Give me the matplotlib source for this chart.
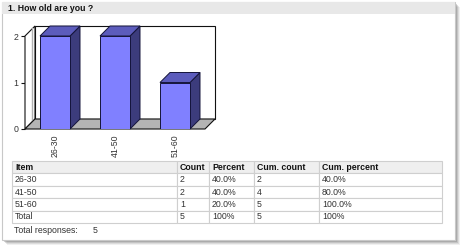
import matplotlib
matplotlib.use("Agg")
import matplotlib.pyplot as plt
from matplotlib.patches import Rectangle, Polygon

# ---- data ----
categories = ["26-30", "41-50", "51-60"]
counts = [2, 2, 1]
percents = ["40.0%", "40.0%", "20.0%"]
cum_counts = [2, 4, 5]
cum_percents = ["40.0%", "80.0%", "100.0%"]
total_row = ["Total", "5", "100%", "5", "100%"]
col_labels = ["Item", "Count", "Percent", "Cum. count", "Cum. percent"]
y_ticks = [0, 1, 2]
title = "1. How old are you ?"
total_responses = 5

W, H = 464, 249
DPI = 100
FONT = "Liberation Sans"
plt.rcParams["font.family"] = [FONT, "DejaVu Sans"]

fig = plt.figure(figsize=(W / DPI, H / DPI), dpi=DPI)
fig.patch.set_facecolor("white")

# ---- background panel (pixel coords) ----
bg = fig.add_axes([0, 0, 1, 1])
bg.set_xlim(0, W)
bg.set_ylim(H, 0)
bg.axis("off")
# shadow
for off, a in [(5, 0.10), (4, 0.15), (3, 0.22), (2, 0.30)]:
    bg.add_patch(Rectangle((2 + off, 2 + off), 453, 238, facecolor="#707070",
                           edgecolor="none", alpha=a, zorder=0))
bg.add_patch(Rectangle((2, 2), 453, 238, facecolor="white", edgecolor="#c8c8c8",
                       lw=0.8, zorder=1))
bg.add_patch(Rectangle((2, 2), 453, 12, facecolor="#e8e8e8", edgecolor="none", zorder=2))
bg.text(8, 8.5, title, fontsize=6.3, fontweight="bold", va="center", ha="left",
        color="#111111", zorder=3)
bg.text(14, 230, "Total responses:", fontsize=6.3, va="center", ha="left", color="#333333")
bg.text(93, 230, str(total_responses), fontsize=6.3, va="center", ha="left", color="#333333")

# ---- chart ----
ax = fig.add_axes([25 / W, (H - 129) / H, 180 / W, 93 / H])
ax.set_xlim(-0.5, len(categories) - 0.5)
ax.set_ylim(0, 2)
ax.patch.set_alpha(0)
for s in ax.spines.values():
    s.set_visible(False)

fig.canvas.draw()
p0 = ax.transData.transform((0, 0))
p1 = ax.transData.transform((1, 1))
DEPTH_PX = 10
dx = DEPTH_PX / (p1[0] - p0[0])
dy = DEPTH_PX / (p1[1] - p0[1])

x0, x1 = -0.5, len(categories) - 0.5
ytop = max(y_ticks)
edge = "#111111"
# back wall
ax.add_patch(Polygon([(x0 + dx, dy), (x1 + dx, dy), (x1 + dx, ytop + dy), (x0 + dx, ytop + dy)],
                     closed=True, facecolor="white", edgecolor=edge, lw=0.8,
                     clip_on=False, zorder=1))
# left wall
ax.add_patch(Polygon([(x0, 0), (x0, ytop), (x0 + dx, ytop + dy), (x0 + dx, dy)],
                     closed=True, facecolor="white", edgecolor=edge, lw=0.8,
                     clip_on=False, zorder=2))
ax.plot([x0 + dx * 0.75, x0 + dx * 0.75], [dy * 0.75, ytop + dy * 0.75], color="#b0b0b0",
        lw=1.0, clip_on=False, zorder=2)
# floor
ax.add_patch(Polygon([(x0, 0), (x1, 0), (x1 + dx, dy), (x0 + dx, dy)],
                     closed=True, facecolor="#b4b4b4", edgecolor=edge, lw=0.8,
                     clip_on=False, zorder=3))

bw = 0.5
xs = list(range(len(categories)))
for i, v in zip(xs, counts):
    ax.add_patch(Polygon([(i + bw / 2, 0), (i + bw / 2, v), (i + bw / 2 + dx, v + dy),
                          (i + bw / 2 + dx, dy)], closed=True, facecolor="#3c3c7c",
                         edgecolor="#14143a", lw=0.7, clip_on=False, zorder=4))
    ax.add_patch(Polygon([(i - bw / 2, v), (i + bw / 2, v), (i + bw / 2 + dx, v + dy),
                          (i - bw / 2 + dx, v + dy)], closed=True, facecolor="#5c5cbc",
                         edgecolor="#14143a", lw=0.7, clip_on=False, zorder=4))
ax.bar(xs, counts, width=bw, color="#8080ff", edgecolor="#14143a", lw=0.7, zorder=5)

ax.set_yticks(y_ticks)
ax.set_yticklabels([str(t) for t in y_ticks], fontsize=6.3, color="#333333")
ax.tick_params(axis="y", length=3, width=0.8, color="#111111", pad=1.5)
ax.set_xticks(xs)
ax.set_xticklabels(categories, rotation=90, fontsize=6.3, color="#333333", va="top")
ax.tick_params(axis="x", length=0, pad=4)

# ---- table ----
tx0, tx1, ty0, ty1 = 12, 442, 161, 223
col_px = [165, 32, 45, 65, 123]
axt = fig.add_axes([tx0 / W, (H - ty1) / H, (tx1 - tx0) / W, (ty1 - ty0) / H])
axt.axis("off")
rows = [[c, str(n), p, str(cc), cp] for c, n, p, cc, cp in
        zip(categories, counts, percents, cum_counts, cum_percents)]
rows.append(total_row)
tot = sum(col_px)
tbl = axt.table(cellText=rows, colLabels=col_labels,
                colWidths=[c / tot for c in col_px], cellLoc="left", colLoc="left",
                bbox=[0, 0, 1, 1])
tbl.auto_set_font_size(False)
tbl.set_fontsize(6.3)
for (r, c), cell in tbl.get_celld().items():
    cell.set_edgecolor("#cfcfcf")
    cell.set_linewidth(0.8)
    cell.PAD = 3.0 / col_px[c]
    cell.get_text().set_color("#333333")
    if r == 0:
        cell.set_facecolor("#efefef")
        cell.get_text().set_fontweight("bold")
        cell.get_text().set_color("#111111")
    else:
        cell.set_facecolor("white")

fig.savefig("out.png", dpi=DPI)
